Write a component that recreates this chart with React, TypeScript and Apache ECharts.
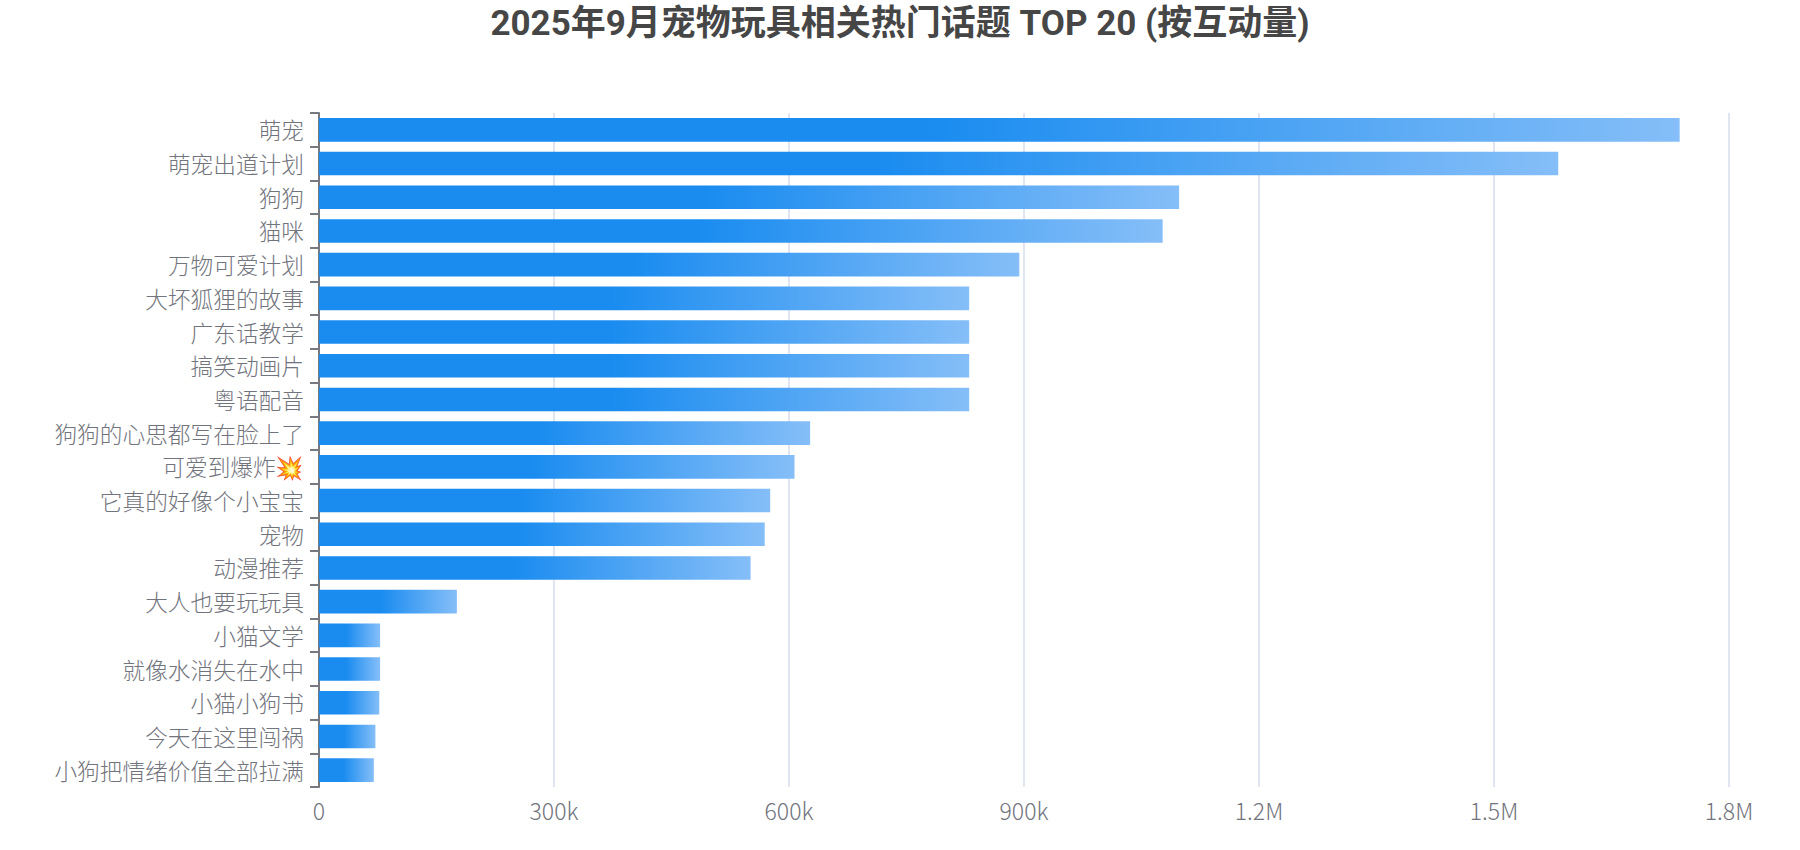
import React, { useEffect, useRef } from "react";
import * as echarts from "echarts";

const titleText = "2025年9月宠物玩具相关热门话题 TOP 20 (按互动量)";
const categories = [
  "萌宠", "萌宠出道计划", "狗狗", "猫咪", "万物可爱计划", "大坏狐狸的故事", "广东话教学", "搞笑动画片", "粤语配音",
  "狗狗的心思都写在脸上了", "可爱到爆炸💥", "它真的好像个小宝宝", "宠物", "动漫推荐", "大人也要玩玩具", "小猫文学",
  "就像水消失在水中", "小猫小狗书", "今天在这里闯祸", "小狗把情绪价值全部拉满",
];
const values = [
  1737000, 1582000, 1098000, 1077000, 894000, 830000, 830000, 830000, 830000, 627000, 607000, 576000, 569000, 551000,
  176000, 78000, 78000, 77000, 72000, 70000,
];
const fontFamily = '"Noto Sans CJK SC", "Noto Color Emoji", sans-serif';
const titleFontFamily = 'Roboto, "Noto Sans CJK SC", sans-serif';

function fmt(v: number): string {
  if (v === 0) return "0";
  if (v >= 1000000) return v / 1000000 + "M";
  return v / 1000 + "k";
}

export default function App() {
  const ref = useRef<HTMLDivElement>(null);
  useEffect(() => {
    const chart = echarts.init(ref.current!, undefined, { renderer: "svg" });
    chart.setOption({
      animation: false,
      title: {
        text: titleText,
        left: "center",
        top: 3,
        padding: 3,
        textStyle: { fontSize: 35, fontWeight: "bold", color: "#464646", fontFamily: titleFontFamily },
      },
      grid: { left: 319, right: 71, top: 113, bottom: 63 },
      xAxis: {
        type: "value",
        min: 0,
        max: 1800000,
        interval: 300000,
        axisLine: { show: false },
        axisTick: { show: false },
        axisLabel: { formatter: fmt, fontSize: 23, color: "#72747d", margin: 11, fontWeight: 300, fontFamily },
        splitLine: { show: true, lineStyle: { color: "#e0e6f1", width: 2 } },
      },
      yAxis: {
        type: "category",
        inverse: true,
        data: categories,
        axisLine: { show: true, lineStyle: { color: "#777981", width: 2 } },
        axisTick: { show: true, length: 9, lineStyle: { color: "#777981", width: 2 } },
        axisLabel: { fontSize: 22.7, color: "#72747d", margin: 15, fontWeight: 300, padding: [0, 0, 10, 0], fontFamily },
      },
      series: [
        {
          type: "bar",
          data: values,
          barWidth: "70%",
          itemStyle: {
            color: new echarts.graphic.LinearGradient(0, 0, 1, 0, [
              { offset: 0, color: "#1a8cf0" },
              { offset: 0.45, color: "#1a8cf0" },
              { offset: 1, color: "#85bef8" },
            ]),
          },
        },
      ],
    });
    return () => chart.dispose();
  }, []);
  return <div ref={ref} style={{ position: "absolute", left: 0, top: 0, width: 1800, height: 850 }} />;
}
